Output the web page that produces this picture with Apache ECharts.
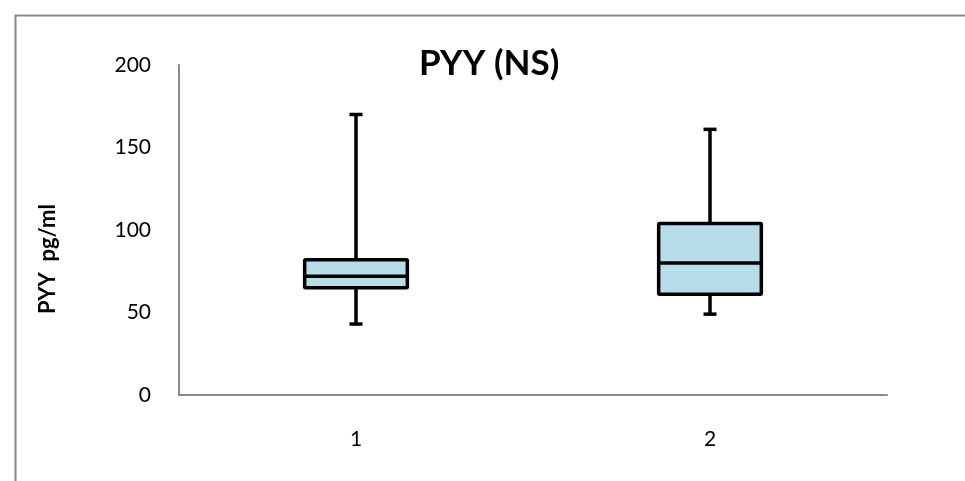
<!DOCTYPE html>
<html>
<head>
<meta charset="utf-8">
<script src="https://cdn.jsdelivr.net/npm/echarts@6/dist/echarts.min.js"></script>
<style>html,body{margin:0;padding:0;background:#fff;}#c{width:965px;height:481px;}</style>
</head>
<body>
<div id="c"></div>
<script>
var categories = ['1', '2'];
var minVals = [43, 49];
var q1Vals = [65, 61];
var medianVals = [72, 80];
var q3Vals = [82, 104];
var maxVals = [170, 161];
var yTicks = [0, 50, 100, 150, 200];
var yAxisTitle = 'PYY  pg/ml';

var data = categories.map(function (c, i) {
  return [i, minVals[i], q1Vals[i], medianVals[i], q3Vals[i], maxVals[i]];
});

var chart = echarts.init(document.getElementById('c'));
var FONT = 'Lato, "Open Sans", sans-serif';

chart.setOption({
  animation: false,
  backgroundColor: '#fff',
  title: {
    text: 'PYY (NS)',
    left: 414, top: 41,
    textStyle: { fontFamily: FONT, fontWeight: 'bold', fontSize: 35, color: '#000' }
  },
  graphic: [{
    type: 'rect', left: 13, top: 13,
    shape: { width: 1000, height: 500 },
    style: { fill: 'none', stroke: '#888', lineWidth: 2 },
    silent: true
  }, {
    type: 'text', x: 48, y: 259, rotation: Math.PI / 2,
    style: {
      text: yAxisTitle, fontFamily: FONT, fontWeight: 'bold', fontSize: 22,
      fill: '#000', align: 'center', verticalAlign: 'middle'
    },
    silent: true
  }],
  grid: { left: 179, right: 78, top: 65, bottom: 86 },
  xAxis: {
    type: 'category',
    data: categories,
    axisLine: { lineStyle: { color: '#8c8c8c', width: 2 } },
    axisTick: { show: false },
    axisLabel: { fontFamily: FONT, fontSize: 21, color: '#000', margin: 34 },
    splitLine: { show: false }
  },
  yAxis: {
    type: 'value',
    min: yTicks[0], max: yTicks[yTicks.length - 1], interval: 50,
    axisLine: { show: true, lineStyle: { color: '#8c8c8c', width: 2 } },
    axisTick: { show: false },
    axisLabel: { fontFamily: FONT, fontSize: 21, color: '#000', margin: 28 },
    splitLine: { show: false }
  },
  series: [{
    type: 'custom',
    data: data,
    encode: { x: 0, y: [1, 2, 3, 4, 5] },
    renderItem: function (params, api) {
      var x = api.value(0);
      var pMin = api.coord([x, api.value(1)]);
      var pQ1 = api.coord([x, api.value(2)]);
      var pMed = api.coord([x, api.value(3)]);
      var pQ3 = api.coord([x, api.value(4)]);
      var pMax = api.coord([x, api.value(5)]);
      var band = api.size([1, 0])[0];
      var hw = band * 0.145;
      var cw = 6.5;
      var cx = pMed[0];
      var lineStyle = { stroke: '#000', lineWidth: 3.5, fill: null };
      return {
        type: 'group',
        children: [
          { type: 'line', shape: { x1: cx, y1: pMax[1], x2: cx, y2: pQ3[1] }, style: lineStyle },
          { type: 'line', shape: { x1: cx, y1: pQ1[1], x2: cx, y2: pMin[1] }, style: lineStyle },
          { type: 'line', shape: { x1: cx - cw, y1: pMax[1], x2: cx + cw, y2: pMax[1] }, style: lineStyle },
          { type: 'line', shape: { x1: cx - cw, y1: pMin[1], x2: cx + cw, y2: pMin[1] }, style: lineStyle },
          { type: 'rect', shape: { x: cx - hw, y: pQ3[1], width: hw * 2, height: pQ1[1] - pQ3[1], r: 1 },
            style: { fill: '#b7dde8', stroke: '#000', lineWidth: 3.5, lineJoin: 'round' } },
          { type: 'line', shape: { x1: cx - hw, y1: pMed[1], x2: cx + hw, y2: pMed[1] }, style: lineStyle }
        ]
      };
    }
  }]
});
</script>
</body>
</html>
